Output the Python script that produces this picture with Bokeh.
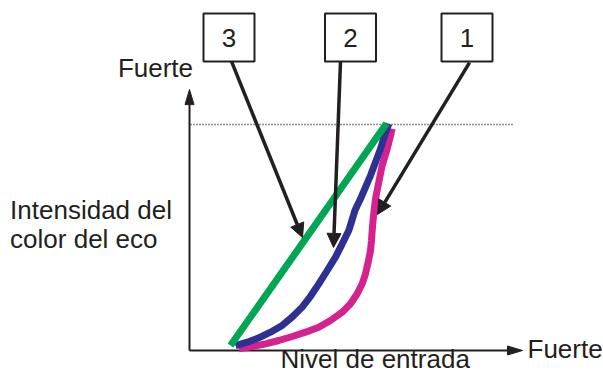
from bokeh.plotting import figure
from bokeh.models import Range1d, Arrow, NormalHead
from bokeh.core.properties import value
from bokeh.embed import file_html
from bokeh.resources import INLINE

# ---- data (x: input level, y: echo colour intensity; 1.0 = max level) ----
curve1_x = [0.2465, 0.3135, 0.38, 0.4465, 0.5135, 0.58, 0.6465, 0.705, 0.7635, 0.805, 0.8385,
            0.8635, 0.88, 0.8935, 0.905, 0.91, 0.9135, 0.92, 0.93, 0.9465, 0.9635, 0.9885, 1.0015, 1.0135]
curve1_y = [0.0075, 0.0177, 0.0296, 0.0442, 0.0619, 0.081, 0.1031, 0.1327, 0.1695, 0.2066, 0.2509,
            0.2951, 0.3394, 0.3909, 0.4425, 0.4867, 0.531, 0.597, 0.671, 0.745, 0.819, 0.892, 0.937, 0.981]
curve2_x = [0.23, 0.2885, 0.3465, 0.405, 0.4635, 0.5135, 0.5635, 0.605, 0.6465, 0.6885, 0.73,
            0.7635, 0.7965, 0.827, 0.855, 0.88, 0.905, 0.93, 0.955, 0.975, 0.9965]
curve2_y = [0.022, 0.0367, 0.056, 0.081, 0.111, 0.148, 0.192, 0.240, 0.295, 0.354, 0.413,
            0.472, 0.531, 0.619, 0.671, 0.723, 0.774, 0.833, 0.892, 0.951, 1.003]
curve3_x = [0.205, 0.985]
curve3_y = [0.022, 1.004]
curve_colors = ["#d4228e", "#2e3192", "#00a651"]

box_labels = ["1", "2", "3"]
box_cx = [1.3875, 0.805, 0.1975]
arrow_start_x = [1.40, 0.755, 0.21]
arrow_start_y = [1.274, 1.279, 1.279]
arrow_end_x = [0.94, 0.72, 0.565]
arrow_end_y = [0.602, 0.456, 0.500]

y_label_lines = ["Intensidad del", "color del eco"]
x_label = "Nivel de entrada"
strong_label = "Fuerte"
max_level = 1.0

INK = "#231f20"
FONT = value("Liberation Sans")
FS = "26px"

p = figure(width=603, height=374, x_range=Range1d(-0.945, 2.07),
           y_range=Range1d(-0.1062, 1.5487), output_backend="svg",
           toolbar_location=None, min_border=0, x_axis_type=None, y_axis_type=None)
p.grid.visible = False
p.outline_line_color = None
p.background_fill_color = "white"

# dotted max level
p.line([0.005, 1.615], [max_level, max_level], line_color=INK, line_width=1.3, line_dash="1 2")

# axes
p.line([0, 0], [0, 1.09], line_color=INK, line_width=2)
p.line([0, 1.60], [0, 0], line_color=INK, line_width=2)
p.patch([0, -0.0225, 0.0225], [1.155, 1.088, 1.088], fill_color=INK, line_color=INK)
p.patch([1.665, 1.59, 1.59], [0, 0.02, -0.02], fill_color=INK, line_color=INK)

# curves
for xs, ys, c in [(curve1_x, curve1_y, curve_colors[0]),
                  (curve2_x, curve2_y, curve_colors[1]),
                  (curve3_x, curve3_y, curve_colors[2])]:
    p.line(xs, ys, line_color=c, line_width=7, line_cap="butt", line_join="round")

# boxes
p.quad(left=[c - 0.1275 for c in box_cx], right=[c + 0.1275 for c in box_cx],
       top=[1.491] * 3, bottom=[1.279] * 3, fill_color="white", line_color=INK, line_width=2)
p.text(x=box_cx, y=[1.3806] * 3, text=box_labels, text_font=FONT, text_font_size=FS,
       text_align="center", text_baseline="alphabetic", text_color=INK)

# pointer arrows
for xs, ys, xe, ye in zip(arrow_start_x, arrow_start_y, arrow_end_x, arrow_end_y):
    p.add_layout(Arrow(end=NormalHead(size=14, fill_color=INK, line_color=INK),
                       x_start=xs, y_start=ys, x_end=xe, y_end=ye,
                       line_color=INK, line_width=3.5))

# texts
p.text(x=[-0.358], y=[1.2496], text=[strong_label], text_font=FONT, text_font_size=FS,
       text_baseline="alphabetic", text_color=INK)
p.text(x=[1.69], y=[0.0066], text=[strong_label], text_font=FONT, text_font_size=FS,
       text_baseline="alphabetic", text_color=INK)
p.text(x=[-0.897, -0.897], y=[0.6216, 0.4936], text=y_label_lines, text_font=FONT,
       text_font_size=FS, text_baseline="alphabetic", text_color=INK)
p.text(x=[0.455], y=[-0.038], text=[x_label], text_font=FONT, text_font_size=FS,
       text_baseline="alphabetic", text_color=INK)

open("out.html", "w").write(file_html(p, INLINE))
